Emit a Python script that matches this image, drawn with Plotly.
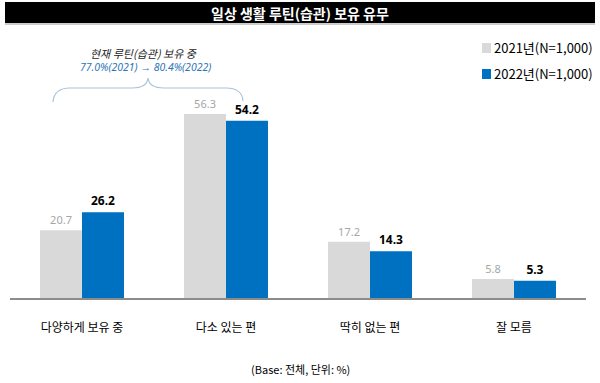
import plotly.graph_objects as go

categories = ["다양하게 보유 중", "다소 있는 편", "딱히 없는 편", "잘 모름"]
values_2021 = [20.7, 56.3, 17.2, 5.8]
values_2022 = [26.2, 54.2, 14.3, 5.3]
series_names = ["2021년(N=1,000)", "2022년(N=1,000)"]

W, H = 600, 383
def px(x):
    return x / W
def py(y):
    return 1 - y / H

GRAY = "#d9d9d9"
BLUE = "#0070c0"
KFONT = "Noto Sans CJK KR"

fig = go.Figure()
fig.add_trace(go.Bar(
    x=categories, y=values_2021, name=series_names[0],
    marker=dict(color=GRAY, line=dict(width=0)),
    text=[f"{v:.1f}" for v in values_2021], textposition="outside",
    textfont=dict(family="Noto Sans", size=11, color="#a6a6a6"),
    cliponaxis=False, showlegend=False,
))
fig.add_trace(go.Bar(
    x=categories, y=values_2022, name=series_names[1],
    marker=dict(color=BLUE, line=dict(width=0)),
    text=[f"<b>{v:.1f}</b>" for v in values_2022], textposition="outside",
    textfont=dict(family="Noto Sans", size=12, color="#000000"),
    cliponaxis=False, showlegend=False,
))

shapes = []
annotations = []

# title bar
shapes.append(dict(type="rect", xref="paper", yref="paper",
                   x0=px(5), x1=px(595), y0=py(23), y1=py(2),
                   fillcolor="#000000", line=dict(width=0), layer="below"))
shapes.append(dict(type="line", xref="paper", yref="paper",
                   x0=px(5), x1=px(595), y0=py(24), y1=py(24),
                   line=dict(color="#9a9a9a", width=1)))
annotations.append(dict(text="<b>일상 생활 루틴(습관) 보유 유무</b>", xref="paper", yref="paper",
                        x=0.5, y=py(13), xanchor="center", yanchor="middle",
                        showarrow=False, font=dict(family=KFONT, size=14, color="#ffffff")))

# legend
for i, (name, col) in enumerate(zip(series_names, [GRAY, BLUE])):
    yc = 48 + 26 * i
    shapes.append(dict(type="rect", xref="paper", yref="paper",
                       x0=px(482), x1=px(491), y0=py(yc + 5), y1=py(yc - 5),
                       fillcolor=col, line=dict(width=0)))
    annotations.append(dict(text=name, xref="paper", yref="paper",
                            x=px(492), y=py(yc), xanchor="left", yanchor="middle",
                            showarrow=False, font=dict(family=KFONT, size=13, color="#000000")))

# brace
pts = lambda x, y: f"{px(x)},{py(y)}"
path = ("M " + pts(53, 102) + " Q " + pts(54, 88) + " " + pts(70, 88) +
        " L " + pts(132, 88) + " Q " + pts(147, 88) + " " + pts(148, 78) +
        " Q " + pts(149, 88) + " " + pts(164, 88) +
        " L " + pts(226, 88) + " Q " + pts(242, 88) + " " + pts(243, 101))
shapes.append(dict(type="path", xref="paper", yref="paper", path=path,
                   line=dict(color="#a9c4dc", width=1.2)))
annotations.append(dict(text="<i>현재 루틴(습관) 보유 중</i>", xref="paper", yref="paper",
                        x=px(143), y=py(53), xanchor="center", yanchor="middle",
                        showarrow=False, font=dict(family=KFONT, size=11, color="#262626")))
annotations.append(dict(text="<i>77.0%(2021) → 80.4%(2022)</i>",
                        xref="paper", yref="paper",
                        x=px(145), y=py(67.5), xanchor="center", yanchor="middle",
                        showarrow=False, font=dict(family="Noto Sans", size=10.5, color="#2e75b6")))

# footer
annotations.append(dict(text="(Base: 전체, 단위: %)", xref="paper", yref="paper",
                        x=px(300), y=py(369), xanchor="center", yanchor="middle",
                        showarrow=False, font=dict(family=KFONT, size=11, color="#000000")))

fig.update_layout(
    width=W, height=H,
    margin=dict(l=0, r=0, t=0, b=0),
    paper_bgcolor="#ffffff", plot_bgcolor="#ffffff",
    barmode="group", bargap=0.417, bargroupgap=0,
    shapes=shapes, annotations=annotations,
    xaxis=dict(domain=[px(10), px(586)], showline=True, linecolor="#8c8c8c", linewidth=1.5,
               showgrid=False, ticks="", ticklabelstandoff=18,
               tickfont=dict(family=KFONT, size=12, color="#000000")),
    yaxis=dict(domain=[py(298), py(40)], range=[0, 78.9], visible=False, showgrid=False),
)

fig.write_html("out.html", config={"displayModeBar": False},
               post_script="document.body.style.margin='0';")
